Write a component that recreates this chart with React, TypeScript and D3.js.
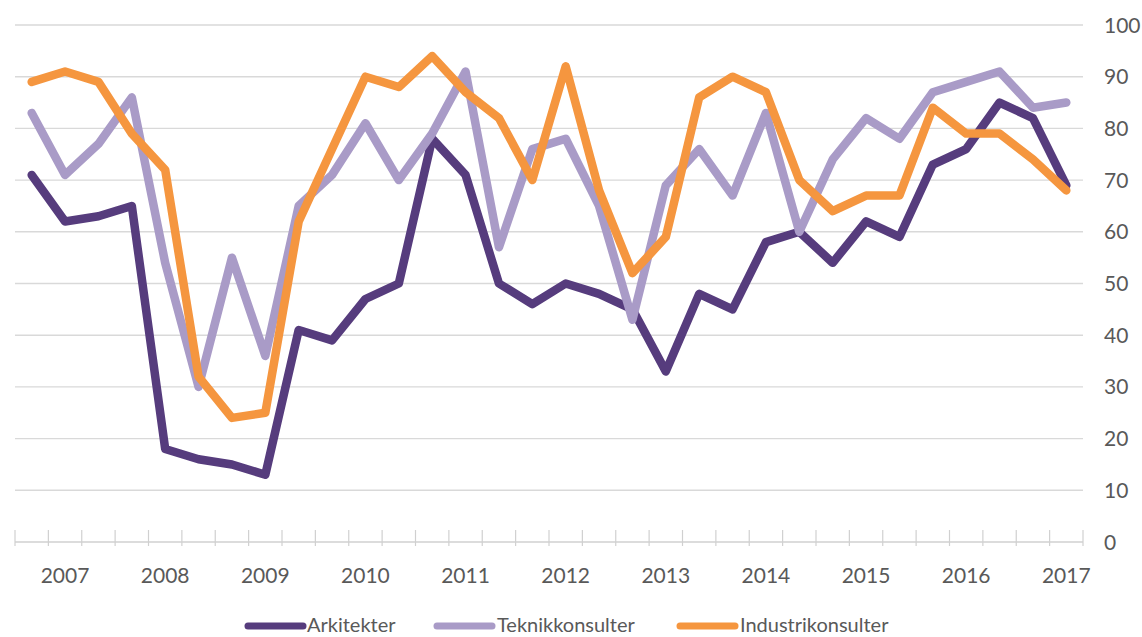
import React from "react";
import * as d3 from "d3";

const categories = [
  "2007 T1", "2007 T2", "2007 T3",
  "2008 T1", "2008 T2", "2008 T3",
  "2009 T1", "2009 T2", "2009 T3",
  "2010 T1", "2010 T2", "2010 T3",
  "2011 T1", "2011 T2", "2011 T3",
  "2012 T1", "2012 T2", "2012 T3",
  "2013 T1", "2013 T2", "2013 T3",
  "2014 T1", "2014 T2", "2014 T3",
  "2015 T1", "2015 T2", "2015 T3",
  "2016 T1", "2016 T2", "2016 T3",
  "2017 T1", "2017 T2",
];

const tickLabels = ["2007", "2008", "2009", "2010", "2011", "2012", "2013", "2014", "2015", "2016", "2017"];
const labelledCategories = [
  "2007 T2", "2008 T2", "2009 T2", "2010 T2", "2011 T2", "2012 T2",
  "2013 T2", "2014 T2", "2015 T2", "2016 T2", "2017 T2",
];

const yTicks = [0, 10, 20, 30, 40, 50, 60, 70, 80, 90, 100];

const arkitekter = [71, 62, 63, 65, 18, 16, 15, 13, 41, 39, 47, 50, 78, 71, 50, 46, 50, 48, 45, 33, 48, 45, 58, 60, 54, 62, 59, 73, 76, 85, 82, 69];
const teknikkonsulter = [83, 71, 77, 86, 54, 30, 55, 36, 65, 71, 81, 70, 79, 91, 57, 76, 78, 65, 43, 69, 76, 67, 83, 60, 74, 82, 78, 87, 89, 91, 84, 85];
const industrikonsulter = [89, 91, 89, 79, 72, 32, 24, 25, 62, 76, 90, 88, 94, 87, 82, 70, 92, 68, 52, 59, 86, 90, 87, 70, 64, 67, 67, 84, 79, 79, 74, 68];

const seriesNames = ["Arkitekter", "Teknikkonsulter", "Industrikonsulter"];
const seriesColors = ["#563c7d", "#a99bc7", "#f5963f"];
const seriesValues = [arkitekter, teknikkonsulter, industrikonsulter];

const W = 1142;
const H = 637;
const left = 15;
const right = 1083;
const top = 25;
const bottom = 542;
const FONT = "Lato, 'Open Sans', sans-serif";
const TEXT = "#595959";

export default function App() {
  const x = d3.scaleBand<string>().domain(categories).range([left, right]).paddingInner(0).paddingOuter(0);
  const y = d3.scaleLinear().domain([0, 100]).range([bottom, top]);
  const cx = (c: string) => (x(c) as number) + x.bandwidth() / 2;

  const line = d3
    .line<number>()
    .x((_, i) => cx(categories[i]))
    .y((d) => y(d));

  const tickXs = categories.map((c) => x(c) as number).concat([right]);

  const legendItems = [
    { lx: 248, tx: 307 },
    { lx: 437, tx: 497 },
    { lx: 680, tx: 740 },
  ];

  return (
    <svg width={W} height={H} style={{ position: "absolute", left: 0, top: 0, background: "#fff" }} fontFamily={FONT}>
      {yTicks.filter((t) => t > 0).map((t) => (
        <line key={t} x1={left} x2={right} y1={y(t)} y2={y(t)} stroke="#d9d9d9" strokeWidth={1.4} />
      ))}
      <line x1={left} x2={right} y1={y(0)} y2={y(0)} stroke="#d0d0d0" strokeWidth={1.4} />
      {tickXs.map((tx, i) => (
        <line key={i} x1={tx} x2={tx} y1={y(0) - 12} y2={y(0) + 4} stroke="#d0d0d0" strokeWidth={1.2} />
      ))}
      {yTicks.map((t) => (
        <text key={t} x={1104} y={y(t)} dy="0.36em" fontSize={21} fill={TEXT}>
          {t}
        </text>
      ))}
      {labelledCategories.map((c, i) => (
        <text key={c} x={cx(c)} y={583} textAnchor="middle" fontSize={21} fill={TEXT}>
          {tickLabels[i]}
        </text>
      ))}
      {seriesValues.map((vals, si) => (
        <path
          key={seriesNames[si]}
          d={line(vals) as string}
          fill="none"
          stroke={seriesColors[si]}
          strokeWidth={8.5}
          strokeLinejoin="round"
          strokeLinecap="round"
        />
      ))}
      {seriesNames.map((n, i) => (
        <g key={n}>
          <line
            x1={legendItems[i].lx}
            x2={legendItems[i].lx + 55}
            y1={626}
            y2={626}
            stroke={seriesColors[i]}
            strokeWidth={7}
            strokeLinecap="round"
          />
          <text x={legendItems[i].tx} y={632} fontSize={20} fill={TEXT}>
            {n}
          </text>
        </g>
      ))}
    </svg>
  );
}
